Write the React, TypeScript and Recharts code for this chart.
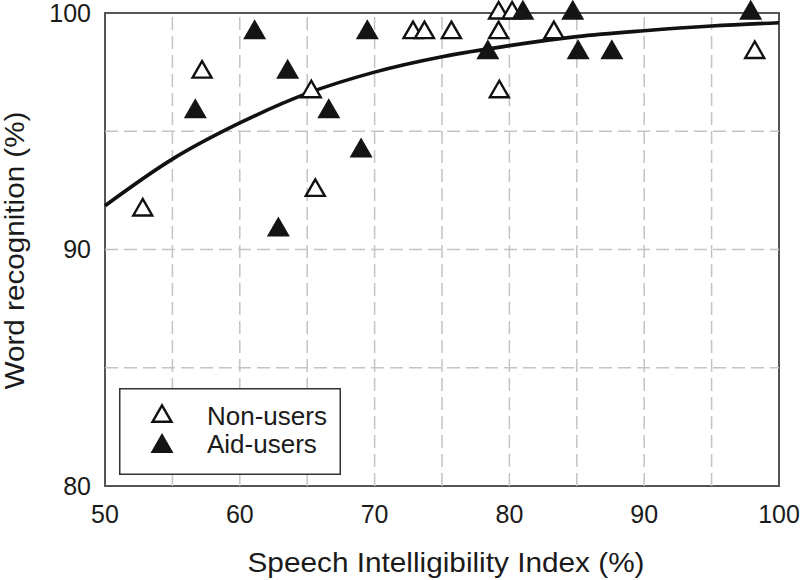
import React from 'react';
import {
  ComposedChart,
  XAxis,
  YAxis,
  Scatter,
  Line,
  ReferenceLine,
  ReferenceArea,
  Legend,
  Label,
} from 'recharts';

const FONT = '"Liberation Sans", Arial, Helvetica, sans-serif';

const nonUsers = [
  { x: 52.8, y: 91.67 },
  { x: 57.2, y: 97.5 },
  { x: 65.3, y: 96.67 },
  { x: 65.6, y: 92.5 },
  { x: 72.85, y: 99.17 },
  { x: 73.7, y: 99.17 },
  { x: 75.7, y: 99.17 },
  { x: 79.2, y: 100 },
  { x: 80.2, y: 100 },
  { x: 79.2, y: 99.17 },
  { x: 79.25, y: 96.67 },
  { x: 83.3, y: 99.17 },
  { x: 98.2, y: 98.33 },
];

const aidUsers = [
  { x: 56.7, y: 95.83 },
  { x: 61.1, y: 99.17 },
  { x: 62.86, y: 90.83 },
  { x: 63.55, y: 97.5 },
  { x: 66.6, y: 95.83 },
  { x: 69.0, y: 94.17 },
  { x: 69.46, y: 99.17 },
  { x: 78.4, y: 98.33 },
  { x: 81.0, y: 100 },
  { x: 84.7, y: 100 },
  { x: 85.1, y: 98.33 },
  { x: 87.6, y: 98.33 },
  { x: 97.9, y: 100 },
];

const fitCurve = [
  { x: 50, y: 91.85 },
  { x: 55, y: 93.82 },
  { x: 60, y: 95.35 },
  { x: 65, y: 96.6 },
  { x: 70, y: 97.5 },
  { x: 75, y: 98.15 },
  { x: 80, y: 98.62 },
  { x: 85, y: 99.0 },
  { x: 90, y: 99.25 },
  { x: 95, y: 99.45 },
  { x: 100, y: 99.59 },
];

const xTicks = [50, 60, 70, 80, 90, 100];
const yTicks = [80, 90, 100];
const xGrid = [55, 60, 65, 70, 75, 80, 85, 90, 95];
const yGrid = [85, 90, 95];

const xLabel = 'Speech Intelligibility Index (%)';
const yLabel = 'Word recognition (%)';
const seriesNames = ['Non-users', 'Aid-users'];

const triPoints = (cx: number, cy: number, w: number, h: number) =>
  `${cx},${cy - (2 * h) / 3} ${cx - w / 2},${cy + h / 3} ${cx + w / 2},${cy + h / 3}`;

const OpenTri = (p: any) => (
  <polygon
    points={triPoints(p.cx, p.cy, 19, 16.5)}
    fill="#ffffff"
    stroke="#111111"
    strokeWidth={2.4}
  />
);

const FilledTri = (p: any) => (
  <polygon points={triPoints(p.cx, p.cy, 23, 20)} fill="#141414" stroke="none" />
);

const LegendBox = () => (
  <svg width={222} height={87} style={{ display: 'block' }}>
    <rect x={0.75} y={0.75} width={220.5} height={85.5} fill="#ffffff" stroke="#333333" strokeWidth={1.5} />
    <polygon points={triPoints(43, 28.3, 19, 16.5)} fill="#ffffff" stroke="#111111" strokeWidth={2.4} />
    <polygon points={triPoints(43, 58.3, 23, 20)} fill="#141414" />
    <text x={88} y={37} fontFamily={FONT} fontSize={26} fill="#1a1a1a">
      {seriesNames[0]}
    </text>
    <text x={88} y={65} fontFamily={FONT} fontSize={26} fill="#1a1a1a">
      {seriesNames[1]}
    </text>
  </svg>
);

const XLabelContent = (props: any) => {
  const vb = props.viewBox || {};
  return (
    <text
      x={vb.x + vb.width / 2 + 4}
      y={572}
      textAnchor="middle"
      fontFamily={FONT}
      fontSize={28}
      fill="#1a1a1a"
      textLength={397}
      lengthAdjust="spacingAndGlyphs"
    >
      {xLabel}
    </text>
  );
};

const YLabelContent = (props: any) => {
  const vb = props.viewBox || {};
  const cx = 24;
  const cy = vb.y + vb.height / 2 + 1;
  return (
    <text
      x={cx}
      y={cy}
      transform={`rotate(-90, ${cx}, ${cy})`}
      textAnchor="middle"
      fontFamily={FONT}
      fontSize={28}
      fill="#1a1a1a"
      textLength={278}
      lengthAdjust="spacingAndGlyphs"
    >
      {yLabel}
    </text>
  );
};

export default function App() {
  return (
    <div style={{ position: 'absolute', left: 0, top: 0, width: 800, height: 580, background: '#fff' }}>
      <ComposedChart width={800} height={580} margin={{ top: 13, right: 21, left: 0, bottom: 0 }}>
        <XAxis
          type="number"
          dataKey="x"
          domain={[50, 100]}
          ticks={xTicks}
          axisLine={false}
          tickLine={false}
          tickSize={0}
          tickMargin={19}
          height={94}
          interval={0}
          tick={{ fontSize: 25, fill: '#1a1a1a', fontFamily: FONT }}
        >
          <Label content={XLabelContent} />
        </XAxis>
        <YAxis
          type="number"
          dataKey="y"
          domain={[80, 100]}
          ticks={yTicks}
          axisLine={false}
          tickLine={false}
          tickSize={0}
          tickMargin={14}
          width={105}
          interval={0}
          tick={{ fontSize: 25, fill: '#1a1a1a', fontFamily: FONT }}
        >
          <Label content={YLabelContent} />
        </YAxis>
        {xGrid.map((v) => (
          <ReferenceLine key={'gx' + v} x={v} stroke="#c4c4c4" strokeWidth={1.5} strokeDasharray="13 6" />
        ))}
        {yGrid.map((v) => (
          <ReferenceLine key={'gy' + v} y={v} stroke="#c4c4c4" strokeWidth={1.5} strokeDasharray="13 6" />
        ))}
        <ReferenceArea x1={50} x2={100} y1={80} y2={100} fill="none" fillOpacity={0} stroke="#555555" strokeWidth={2} />
        <Line
          data={fitCurve}
          dataKey="y"
          type="monotone"
          stroke="#111111"
          strokeWidth={3.6}
          dot={false}
          activeDot={false}
          isAnimationActive={false}
          legendType="none"
        />
        <Scatter name={seriesNames[0]} data={nonUsers} dataKey="y" shape={OpenTri} isAnimationActive={false} />
        <Scatter name={seriesNames[1]} data={aidUsers} dataKey="y" shape={FilledTri} isAnimationActive={false} />
        <Legend
          layout="horizontal"
          verticalAlign="middle"
          align="center"
          content={LegendBox}
          wrapperStyle={{ position: 'absolute', left: 119, top: 388, width: 222, height: 87 }}
        />
      </ComposedChart>
    </div>
  );
}
